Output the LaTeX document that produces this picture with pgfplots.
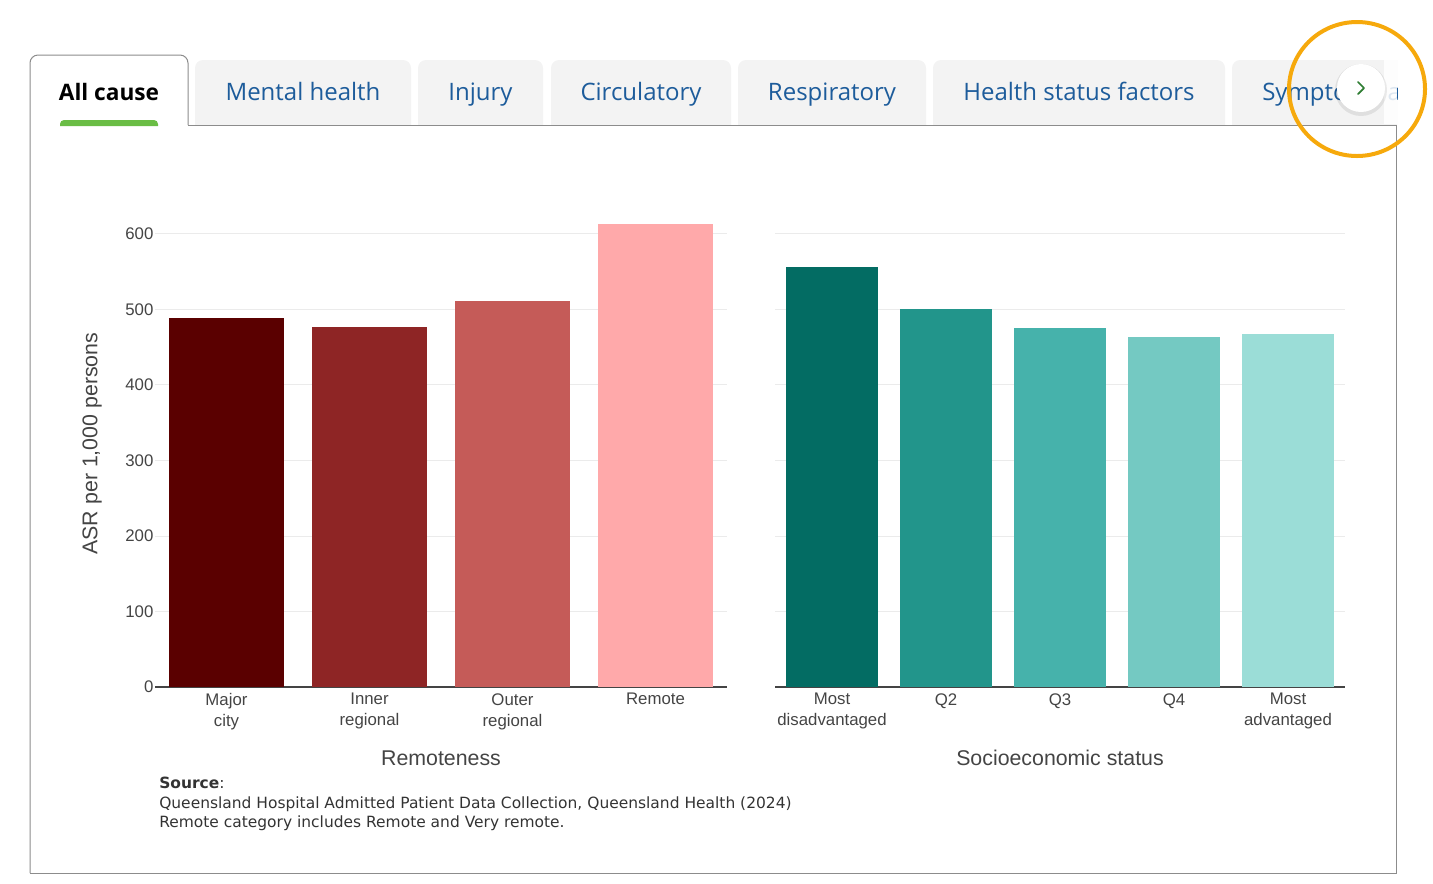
\documentclass[border=0pt]{standalone}
\usepackage{fontspec}
\setmainfont{Liberation Sans}
\newfontfamily\tabfont{Open Sans}
\newfontfamily\srcfont{DejaVu Sans}
\usepackage{pgfplots}
\pgfplotsset{compat=1.18}

\definecolor{axisgrey}{HTML}{444444}
\definecolor{gridgrey}{HTML}{EBEBEB}
\definecolor{tabblue}{HTML}{1D5C9B}
\definecolor{tabbg}{HTML}{F3F3F3}
\definecolor{boxline}{HTML}{8C8C8C}
\definecolor{tabgreen}{HTML}{6ABD45}
\definecolor{ring}{HTML}{F6A90C}
\definecolor{chev}{HTML}{2E7D32}
\definecolor{srcgrey}{HTML}{333333}
% remoteness palette
\definecolor{R1}{HTML}{5A0000}
\definecolor{R2}{HTML}{8E2525}
\definecolor{R3}{HTML}{C55B58}
\definecolor{R4}{HTML}{FFA9AA}
% socioeconomic palette
\definecolor{S1}{HTML}{036C63}
\definecolor{S2}{HTML}{22958B}
\definecolor{S3}{HTML}{46B2AB}
\definecolor{S4}{HTML}{74C9C2}
\definecolor{S5}{HTML}{9BDDD7}

\pgfplotsset{
  barpanel/.style={
    scale only axis, height=351.1pt,
    ymin=0, ymax=620,
    ytick={0,100,...,600},
    axis x line*=bottom, axis y line*=left,
    x axis line style={draw=axisgrey, line width=1.5pt, -},
    y axis line style={draw=none},
    xtick style={draw=none}, ytick style={draw=none},
    ymajorgrids, grid style={draw=gridgrey, line width=0.75pt},
    /pgf/number format/assume math mode=true,
    tick label style={font=\fontsize{12.6}{15.75}\selectfont, text=axisgrey},
    yticklabel style={inner sep=1pt},
    xticklabel style={align=center, inner sep=3pt, yshift=-1.5pt},
    xlabel style={at={(axis description cs:0.5,-0.152)}, anchor=center,
                  font=\fontsize{16}{19}\selectfont, text=axisgrey},
    ylabel style={at={(axis description cs:-0.110,0.52)}, anchor=center,
                  font=\fontsize{16}{19}\selectfont, text=axisgrey},
  },
  bx/.style={ybar, bar width=0.8, bar shift=0pt, draw=none, fill=#1},
}

\begin{document}
\begin{tikzpicture}[x=0.75pt,y=-0.75pt]
\useasboundingbox (0,0) rectangle (1433,883);

% inactive tabs
\foreach \a/\b/\t in {195/411/Mental health, 418/543/Injury, 551/731/Circulatory, 738/926/Respiratory, 933/1225/Health status factors}{
  \fill[tabbg] (\a,125) [rounded corners=6] -- (\a,60) -- (\b,60) [sharp corners] -- (\b,125) -- cycle;
  \node[anchor=base, inner sep=0, text=tabblue, font=\tabfont\fontsize{18}{22}\selectfont] at ({(\a+\b)/2},100) {\t};
}
% partly hidden last tab
\begin{scope}
  \clip (1200,40) rectangle (1397,126);
  \fill[tabbg] (1232,125) [rounded corners=6] -- (1232,60) -- (1500,60) [sharp corners] -- (1500,125) -- cycle;
  \node[anchor=base west, inner sep=0, text=tabblue, font=\tabfont\fontsize{18}{22}\selectfont] at (1262,100) {Symptoms and signs};
\end{scope}
\fill[white, opacity=0.85] (1384,58) rectangle (1397,124);

% active tab and panel frame
\filldraw[fill=white, draw=boxline, line width=0.75pt] (30,873) -- (30,125) [rounded corners=6] -- (30,55) -- (188,55) [sharp corners] -- (188,125);
\draw[boxline, line width=0.75pt] (188,125) -- (1396,125) -- (1396,873) -- (30,873);
\node[anchor=base, inner sep=0, text=black, font=\tabfont\bfseries\fontsize{17}{21}\selectfont] at (109,100) {All cause};
\fill[tabgreen] (60,126) [rounded corners=3] -- (60,120) -- (158,120) [sharp corners] -- (158,126) -- cycle;

% scroll button with highlight ring
\fill[black, opacity=0.08] (1361,90) circle (26);
\fill[white] (1361,88) circle (24);
\draw[chev, line width=1.3pt, line cap=round, line join=round] (1358,82) -- (1364,88) -- (1358,94);
\draw[ring, line width=3pt] (1357,89) ellipse [x radius=68, y radius=67];

% remoteness panel
\begin{axis}[barpanel, at={(116.25pt,-515.25pt)}, anchor=south west, width=429pt,
  xmin=-0.5, xmax=3.5, xtick={0,1,2,3},
  xticklabels={{Major\\city},{Inner\\regional},{Outer\\regional},{Remote}},
  xlabel={Remoteness}, ylabel={ASR per 1,000 persons}]
\addplot[bx=R1] coordinates {(0,489)};
\addplot[bx=R2] coordinates {(1,477)};
\addplot[bx=R3] coordinates {(2,511)};
\addplot[bx=R4] coordinates {(3,613)};
\end{axis}

% socioeconomic panel
\begin{axis}[barpanel, at={(581.25pt,-515.25pt)}, anchor=south west, width=427.5pt,
  xmin=-0.5, xmax=4.5, xtick={0,1,2,3,4},
  xticklabels={{Most\\disadvantaged},{Q2},{Q3},{Q4},{Most\\advantaged}},
  yticklabels={}, xlabel={Socioeconomic status}]
\addplot[bx=S1] coordinates {(0,556)};
\addplot[bx=S2] coordinates {(1,500)};
\addplot[bx=S3] coordinates {(2,476)};
\addplot[bx=S4] coordinates {(3,464)};
\addplot[bx=S5] coordinates {(4,468)};
\end{axis}

% source note
\begin{scope}[every node/.style={anchor=base west, inner sep=0, text=srcgrey, font=\srcfont\fontsize{11.6}{13}\selectfont}]
  \node at (159,788) {\textbf{Source}:};
  \node at (159,808) {Queensland Hospital Admitted Patient Data Collection, Queensland Health (2024)};
  \node at (159,827) {Remote category includes Remote and Very remote.};
\end{scope}
\end{tikzpicture}
\end{document}
